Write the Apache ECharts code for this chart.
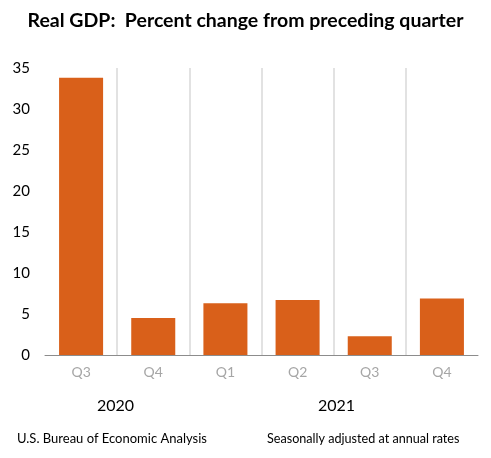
<!DOCTYPE html>
<html>
<head>
<meta charset="utf-8">
<script src="https://cdn.jsdelivr.net/npm/echarts@6/dist/echarts.min.js"></script>
<style>
  html, body { margin: 0; padding: 0; background: #fff; }
  #main { width: 491px; height: 458px; }
</style>
</head>
<body>
<div id="main"></div>
<script>
// 季度标签
var quarters = ['Q3', 'Q4', 'Q1', 'Q2', 'Q3', 'Q4'];
// 环比增长率（年化）
var gdpChange = [33.8, 4.5, 6.3, 6.7, 2.3, 6.9];
// 年份标签
var years = ['2020', '2021'];
var yTicks = [0, 5, 10, 15, 20, 25, 30, 35];

var chart = echarts.init(document.getElementById('main'));
var font = 'Lato, "Open Sans", sans-serif';
var sep = '#d9d9d9', none = 'rgba(0,0,0,0)';

var option = {
    animation: false,
    title: {
        text: 'Real GDP:  Percent change from preceding quarter',
        left: 'center',
        top: 6,
        textStyle: { fontFamily: font, fontSize: 19.5, fontWeight: 'bold', color: '#000' }
    },
    grid: { left: 45, right: 13, top: 68, bottom: 103 },
    xAxis: {
        type: 'category',
        data: quarters,
        axisLine: { lineStyle: { color: '#8c8c8c', width: 1 } },
        axisTick: { show: false },
        axisLabel: { color: '#a6a6a6', fontFamily: font, fontSize: 14, margin: 10 },
        // 只保留季度之间的分隔线
        splitLine: { show: true, lineStyle: { color: [none, sep, sep, sep, sep, sep, none], width: 1.5 } }
    },
    yAxis: {
        type: 'value',
        min: yTicks[0],
        max: yTicks[yTicks.length - 1],
        interval: 5,
        axisLine: { show: false },
        axisTick: { show: false },
        splitLine: { show: false },
        axisLabel: { color: '#000', fontFamily: font, fontSize: 15, margin: 15 }
    },
    series: [{
        type: 'bar',
        data: gdpChange,
        barWidth: '61%',
        itemStyle: { color: '#d9601a' }
    }],
    graphic: [
        { type: 'text', left: 97, top: 398, style: { text: years[0], font: '16px ' + font, fill: '#000' } },
        { type: 'text', left: 318, top: 398, style: { text: years[1], font: '16px ' + font, fill: '#000' } },
        { type: 'text', left: 17, top: 432, style: { text: 'U.S. Bureau of Economic Analysis', font: '13px ' + font, fill: '#000' } },
        { type: 'text', left: 267, top: 432, style: { text: 'Seasonally adjusted at annual rates', font: '12.6px ' + font, fill: '#000' } }
    ]
};
chart.setOption(option);
</script>
</body>
</html>
